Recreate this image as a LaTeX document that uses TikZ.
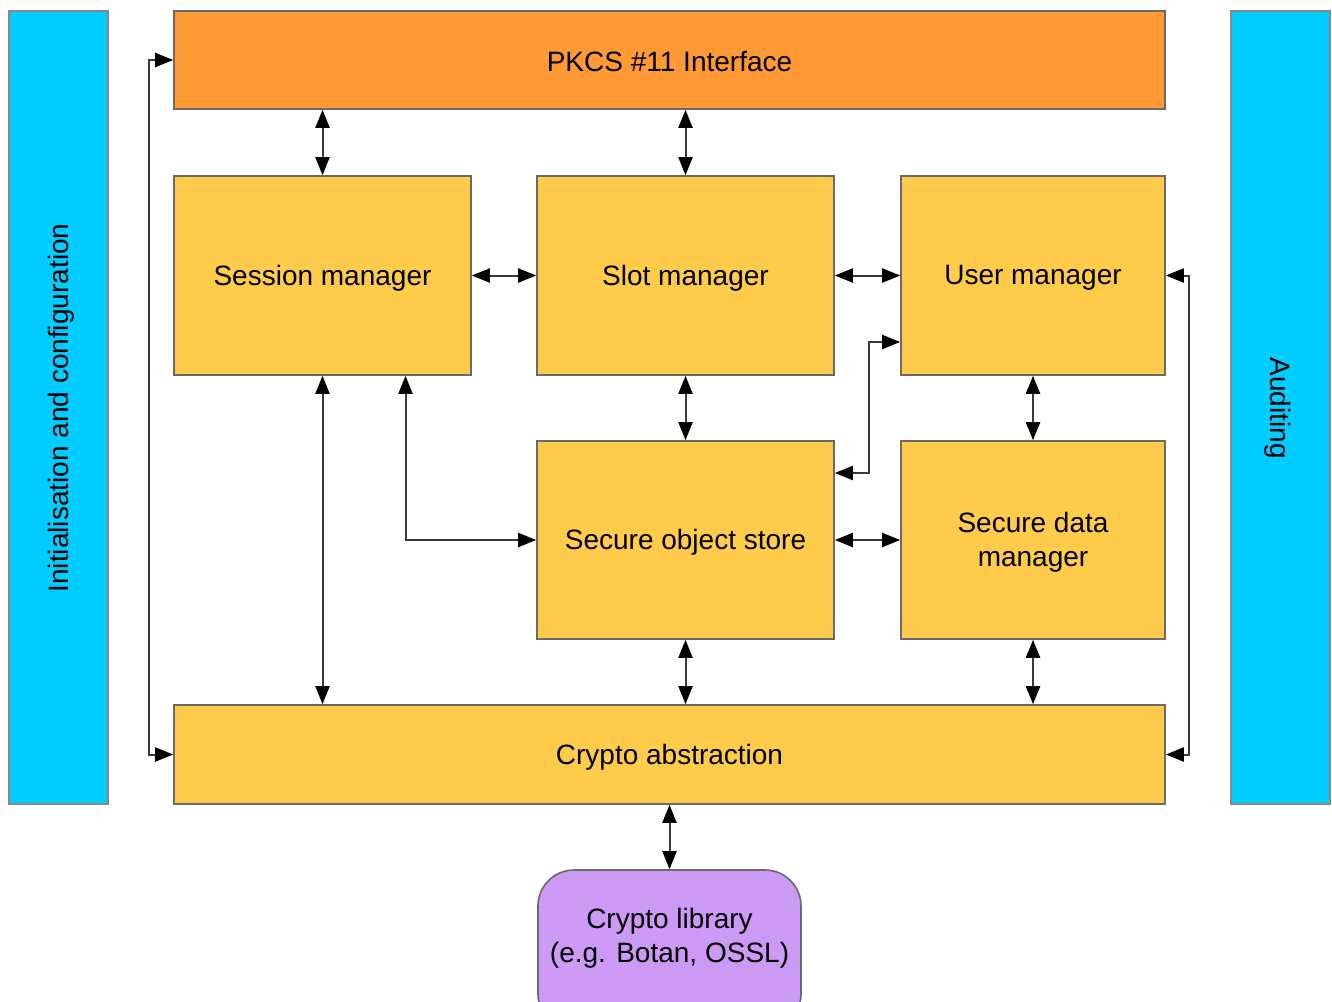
\documentclass[tikz,border=0pt]{standalone}
\usepackage{fontspec}
\setmainfont{Liberation Sans}
\usetikzlibrary{arrows.meta}
\definecolor{barblue}{HTML}{00CCFF}
\definecolor{pkorange}{HTML}{FF9933}
\definecolor{compyellow}{HTML}{FFCB4A}
\definecolor{libpurple}{HTML}{CC99F5}
\definecolor{edgegray}{HTML}{6A6A6A}
\definecolor{linegray}{HTML}{3A3A3A}
\tikzset{
  box/.style={draw=edgegray, line width=1.6pt, inner sep=0pt, align=center,
    font=\fontsize{28}{34}\selectfont, text=black},
  ybox/.style={box, fill=compyellow},
  lbl/.style={align=center, font=\fontsize{28}{34}\selectfont, text=black},
  tip/.tip={Triangle[length=18pt,width=14pt,color=black]},
  dbl/.style={draw=linegray, line width=2pt, tip-tip}
}
\begin{document}
\begin{tikzpicture}[x=1pt,y=-1pt]
\useasboundingbox (0,0) rectangle (1332,1001);
\clip (0,0) rectangle (1332,1001);
\fill[white] (0,0) rectangle (1332,1001);
% side bars
\node[box, draw=edgegray!80, fill=barblue, minimum width=99pt, minimum height=793pt] (init) at (58.5,407.5) {};
\node[lbl, rotate=90] (initt) at (61,408) {Initialisation and configuration};
\node[box, draw=edgegray!80, fill=barblue, minimum width=99pt, minimum height=793pt] (audit) at (1280.5,407.5) {};
\node[lbl, rotate=-90] (auditt) at (1278,408) {Auditing};
% main boxes
\node[box, fill=pkorange, minimum width=991pt, minimum height=98pt] (pkcs) at (669.5,60) {};
\node[lbl] (pkcst) at (669.5,62) {PKCS \#11 Interface};
\node[ybox, minimum width=297pt, minimum height=199pt] (sess) at (322.5,275.5) {};
\node[lbl] (sesst) at (322.5,278) {Session manager};
\node[ybox, minimum width=297pt, minimum height=199pt] (slot) at (685.5,275.5) {};
\node[lbl] (slott) at (685.5,278) {Slot manager};
\node[ybox, minimum width=264pt, minimum height=199pt] (user) at (1033,275.5) {};
\node[lbl] (usert) at (1033,278) {User manager};
\node[ybox, minimum width=297pt, minimum height=198pt] (sos) at (685.5,540) {};
\node[lbl] (sost) at (685.5,542) {Secure object store};
\node[ybox, minimum width=264pt, minimum height=198pt] (sdm) at (1033,540) {};
\node[lbl] (sdmt) at (1033,542) {Secure data\\manager};
\node[ybox, minimum width=991pt, minimum height=99pt] (cabs) at (669.5,754.5) {};
\node[lbl] (cabst) at (669.5,757) {Crypto abstraction};
\node[box, fill=libpurple, rounded corners=36pt, minimum width=263pt, minimum height=160pt] (clib) at (669.5,950) {};
\node[lbl] (clibt) at (669.5,938) {Crypto library\\(e.g. Botan, OSSL)};
% connectors
\draw[dbl] (pkcs.south -| sess.north) -- (sess.north);
\draw[dbl] (pkcs.south -| slot.north) -- (slot.north);
\draw[dbl] (sess.east) -- (slot.west);
\draw[dbl] (slot.east) -- (user.west);
\draw[dbl] (slot.south) -- (sos.north);
\draw[dbl] (user.south) -- (sdm.north);
\draw[dbl] (sos.east) -- (sdm.west);
\draw[dbl] (sess.south) -- (cabs.north -| sess.south);
\draw[dbl] ([xshift=83pt]sess.south) |- (sos.west);
\draw[dbl] ([yshift=67pt]sos.east) -- ++(34,0) |- ([yshift=-66.5pt]user.west);
\draw[dbl] (sos.south) -- (cabs.north -| sos.south);
\draw[dbl] (sdm.south) -- (cabs.north -| sdm.south);
\draw[dbl] (cabs.south) -- (clib.north);
\draw[dbl] (pkcs.west) -- ++(-24,0) |- (cabs.west);
\draw[dbl] (user.east) -- ++(23,0) |- (cabs.east);
\end{tikzpicture}
\end{document}
